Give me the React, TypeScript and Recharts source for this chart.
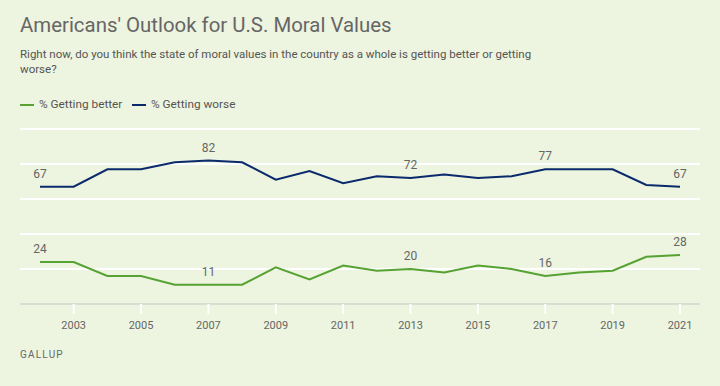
import React from 'react';
import { LineChart, Line, XAxis, YAxis, CartesianGrid, LabelList } from 'recharts';

const years = [2002, 2003, 2004, 2005, 2006, 2007, 2008, 2009, 2010, 2011, 2012, 2013, 2014, 2015, 2016, 2017, 2018, 2019, 2020, 2021];
const gettingBetter = [24, 24, 16, 16, 11, 11, 11, 21, 14, 22, 19, 20, 18, 22, 20, 16, 18, 19, 27, 28];
const gettingWorse = [67, 67, 77, 77, 81, 82, 81, 71, 76, 69, 73, 72, 74, 72, 73, 77, 77, 77, 68, 67];
const labeledYears = [2002, 2007, 2013, 2017, 2021];
const xTicks = [2003, 2005, 2007, 2009, 2011, 2013, 2015, 2017, 2019, 2021];
const yTicks = [0, 20, 40, 60, 80, 100];

const data = years.map((y, i) => ({ year: y, better: gettingBetter[i], worse: gettingWorse[i] }));

const BG = '#edf4df';
const GREEN = '#56a232';
const NAVY = '#0b2a6c';
const FONT = 'Roboto, "Noto Sans", sans-serif';

const makeLabel = () => (props: any) => {
  const { x, y, value, index } = props;
  if (!labeledYears.includes(data[index].year)) return null;
  return (
    <text x={x} y={y - 9} textAnchor="middle" fill="#666" fontSize={12} fontFamily={FONT}>
      {value}
    </text>
  );
};

export default function App() {
  return (
    <div style={{ position: 'absolute', left: 0, top: 0, width: 720, height: 386, background: BG, fontFamily: FONT, overflow: 'hidden' }}>
      <div style={{ position: 'absolute', left: 20, top: 13, fontSize: 20.4, color: '#666', whiteSpace: 'nowrap' }}>
        Americans' Outlook for U.S. Moral Values
      </div>
      <div style={{ position: 'absolute', left: 20, top: 47, fontSize: 11.5, lineHeight: '15px', color: '#555', whiteSpace: 'nowrap' }}>
        Right now, do you think the state of moral values in the country as a whole is getting better or getting
        <br />
        worse?
      </div>
      <div style={{ position: 'absolute', left: 20, top: 97, height: 16, fontSize: 11.8, color: '#555', whiteSpace: 'nowrap' }}>
        <span style={{ position: 'absolute', left: 0, top: 7, width: 14, height: 2, background: GREEN }} />
        <span style={{ position: 'absolute', left: 19, top: 0 }}>% Getting better</span>
        <span style={{ position: 'absolute', left: 112, top: 7, width: 14, height: 2, background: NAVY }} />
        <span style={{ position: 'absolute', left: 131, top: 0 }}>% Getting worse</span>
      </div>
      <div style={{ position: 'absolute', left: 0, top: 0 }}>
        <LineChart width={720} height={386} data={data} margin={{ top: 129, right: 20, left: 20, bottom: 52 }}>
          <CartesianGrid vertical={false} stroke="#ffffff" strokeWidth={2} />
          <YAxis hide domain={[0, 100]} ticks={yTicks} width={0} />
          <XAxis
            dataKey="year"
            type="number"
            domain={[2002, 2021]}
            ticks={xTicks}
            padding={{ left: 20, right: 20 }}
            height={30}
            axisLine={{ stroke: '#d9ddd2', strokeWidth: 2 }}
            tickLine={{ stroke: '#ffffff', strokeWidth: 2 }}
            tickSize={10}
            tickMargin={7}
            tick={{ fill: '#666', fontSize: 11, fontFamily: FONT }}
          />
          <Line type="linear" dataKey="worse" stroke={NAVY} strokeWidth={2} dot={false} isAnimationActive={false}>
            <LabelList dataKey="worse" content={makeLabel()} />
          </Line>
          <Line type="linear" dataKey="better" stroke={GREEN} strokeWidth={2} dot={false} isAnimationActive={false}>
            <LabelList dataKey="better" content={makeLabel()} />
          </Line>
        </LineChart>
      </div>
      <div style={{ position: 'absolute', left: 20, top: 349, fontSize: 10, letterSpacing: 1.2, color: '#666' }}>
        GALLUP
      </div>
    </div>
  );
}
